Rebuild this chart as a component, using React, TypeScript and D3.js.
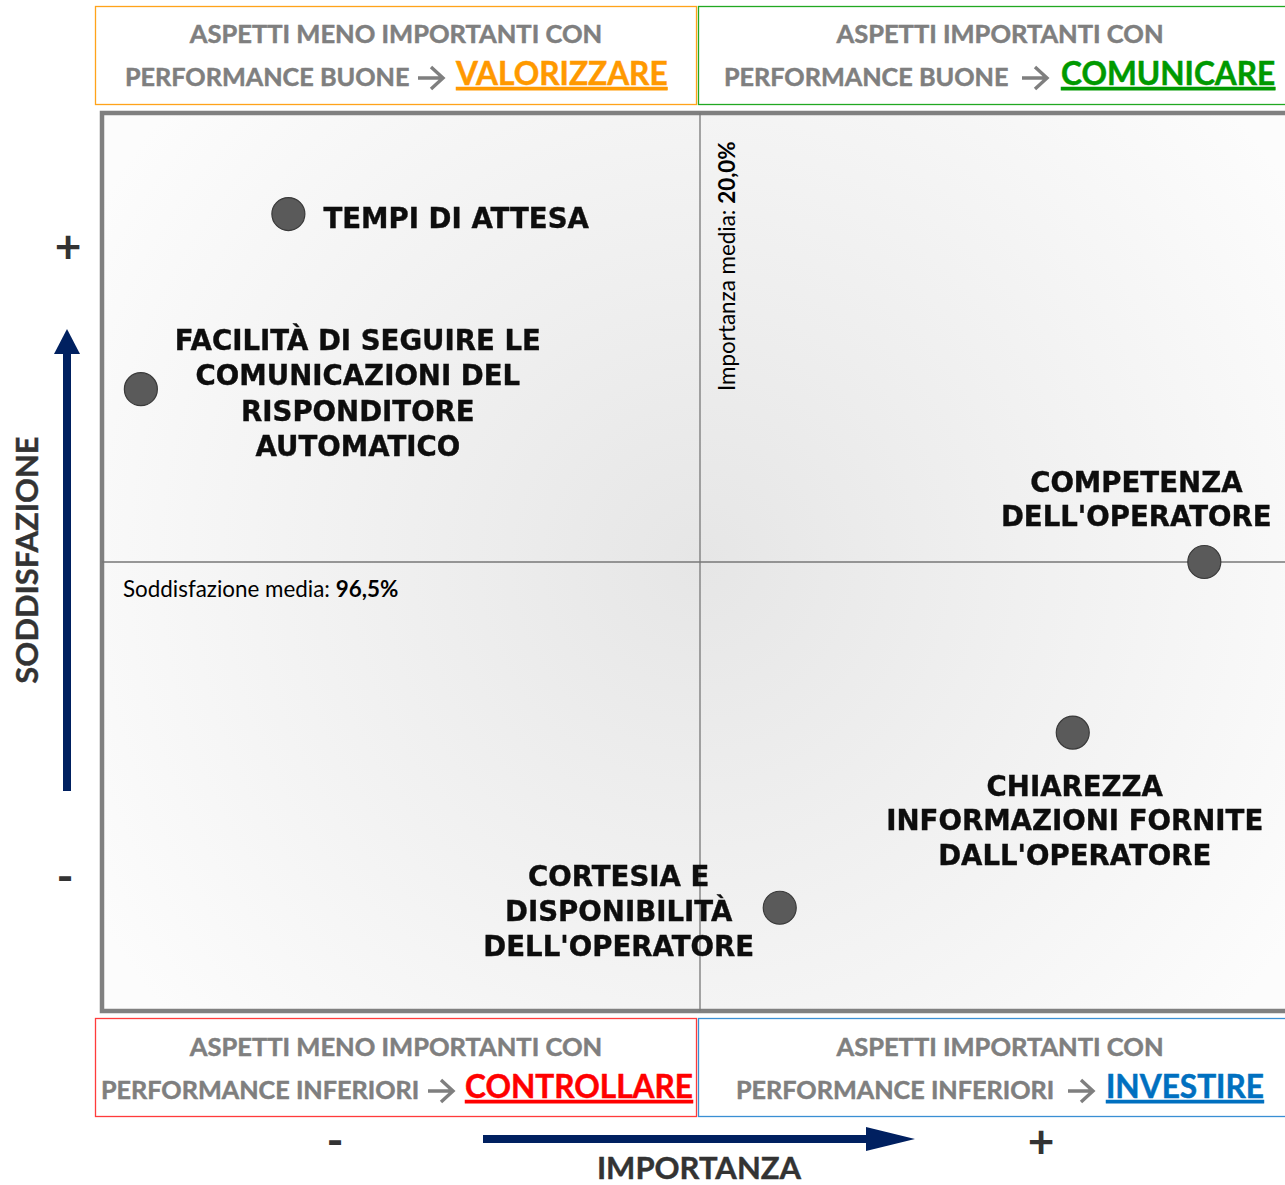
import React from "react";
import * as d3 from "d3";

// ---------- DATA ----------
const aspects = [
  "TEMPI DI ATTESA",
  "FACILITÀ DI SEGUIRE LE COMUNICAZIONI DEL RISPONDITORE AUTOMATICO",
  "COMPETENZA DELL'OPERATORE",
  "CHIAREZZA INFORMAZIONI FORNITE DALL'OPERATORE",
  "CORTESIA E DISPONIBILITÀ DELL'OPERATORE",
];
const labelLines = [
  ["TEMPI DI ATTESA"],
  ["FACILITÀ DI SEGUIRE LE", "COMUNICAZIONI DEL", "RISPONDITORE", "AUTOMATICO"],
  ["COMPETENZA", "DELL'OPERATORE"],
  ["CHIAREZZA", "INFORMAZIONI FORNITE", "DALL'OPERATORE"],
  ["CORTESIA E", "DISPONIBILITÀ", "DELL'OPERATORE"],
];
const importance = [15.87, 14.39, 25.06, 23.74, 20.8]; // %
const satisfaction = [98.05, 97.27, 96.5, 95.74, 94.96]; // %
const meanImportance = 20.0;
const meanSatisfaction = 96.5;

const quadrantTitles = [
  "ASPETTI MENO IMPORTANTI CON",
  "ASPETTI IMPORTANTI CON",
  "ASPETTI MENO IMPORTANTI CON",
  "ASPETTI IMPORTANTI CON",
];
const quadrantSubs = [
  "PERFORMANCE BUONE",
  "PERFORMANCE BUONE",
  "PERFORMANCE INFERIORI",
  "PERFORMANCE INFERIORI",
];
const quadrantActions = ["VALORIZZARE", "COMUNICARE", "CONTROLLARE", "INVESTIRE"];

// ---------- LAYOUT / STYLE ----------
const W = 1285;
const H = 1185;
const plot = { left: 102, top: 113, right: 1298, bottom: 1011 };

const labelLayout = [
  { dx: 35, dy: 14, anchor: "start", lh: 35 },
  { dx: 217, dy: -39, anchor: "middle", lh: 35.3 },
  { dx: -68, dy: -70, anchor: "middle", lh: 33.5 },
  { dx: 2, dy: 63, anchor: "middle", lh: 34.5 },
  { dx: -161, dy: -22, anchor: "middle", lh: 35 },
];

const boxes = [
  { x: 95.5, y: 6.5, w: 601, h: 98, color: "#FFA31A", actionColor: "#FF9900",
    titleX: 396, subX: 125, arrowX: 418, actX: 456, titleY: 43, subY: 86 },
  { x: 698.5, y: 6.5, w: 600, h: 98, color: "#22A822", actionColor: "#009900",
    titleX: 1000, subX: 724, arrowX: 1022, actX: 1061, titleY: 43, subY: 86 },
  { x: 95.5, y: 1018.5, w: 601, h: 98, color: "#FF3B3B", actionColor: "#FF0000",
    titleX: 396, subX: 101, arrowX: 428, actX: 465, titleY: 1056, subY: 1099 },
  { x: 698.5, y: 1018.5, w: 600, h: 98, color: "#3A8FD3", actionColor: "#0070C0",
    titleX: 1000, subX: 736, arrowX: 1068, actX: 1106, titleY: 1056, subY: 1099 },
];

const NAVY = "#002060";
const GRAY_TXT = "#7F7F7F";
const LABEL_FONT = "'DejaVu Sans', Verdana, sans-serif";
const HEAD_FONT = "Lato, 'Open Sans', sans-serif";

export default function App() {
  const x = d3.scaleLinear().domain([14, 26]).range([plot.left, plot.right]);
  const y = d3.scaleLinear().domain([94.5, 98.5]).range([plot.bottom, plot.top]);
  const mx = x(meanImportance);
  const my = y(meanSatisfaction);

  const fmt = (v: number) => d3.format(".1f")(v).replace(".", ",") + "%";

  const arrowPath = (ax: number, ay: number) =>
    `M${ax},${ay - 8} L${ax + 24},${ay - 8} M${ax + 13},${ay - 19} L${ax + 25},${ay - 8} L${ax + 13},${ay + 3}`;

  return (
    <svg
      width={W}
      height={H}
      style={{ position: "absolute", left: 0, top: 0, background: "#fff" }}
    >
      <defs>
        <radialGradient id="bg" cx={mx} cy={my} r={700} gradientUnits="userSpaceOnUse">
          <stop offset="0" stopColor="#e6e6e6" />
          <stop offset="0.55" stopColor="#f2f2f2" />
          <stop offset="1" stopColor="#fcfcfc" />
        </radialGradient>
        <filter id="sh" x="-5%" y="-5%" width="110%" height="110%">
          <feGaussianBlur stdDeviation="0.5" />
        </filter>
      </defs>

      {/* header / footer boxes */}
      {boxes.map((b, i) => (
        <g key={i}>
          <rect x={b.x} y={b.y} width={b.w} height={b.h} fill="#fff" stroke={b.color} strokeWidth={1.3} />
          <text x={b.titleX} y={b.titleY} textAnchor="middle" fontFamily={HEAD_FONT} fontWeight={700}
            fontSize={25.5} fill={GRAY_TXT} stroke={GRAY_TXT} strokeWidth={0.5}>{quadrantTitles[i]}</text>
          <text x={b.subX} y={b.subY} fontFamily={HEAD_FONT} fontWeight={700} fontSize={25.2}
            fill={GRAY_TXT} stroke={GRAY_TXT} strokeWidth={0.5}>{quadrantSubs[i]}</text>
          <path d={arrowPath(b.arrowX, b.subY)} fill="none" stroke={GRAY_TXT} strokeWidth={3.4} />
          <text x={b.actX} y={b.subY - 1} fontFamily={HEAD_FONT} fontWeight={700} fontSize={31.6}
            fill={b.actionColor} stroke={b.actionColor} strokeWidth={0.5}
            style={{ textDecoration: "underline" }}>{quadrantActions[i]}</text>
        </g>
      ))}

      {/* plot area */}
      <rect x={plot.left} y={plot.top} width={plot.right - plot.left} height={plot.bottom - plot.top}
        fill="url(#bg)" stroke="#808080" strokeWidth={4.5} />

      {/* mean lines */}
      <line x1={mx} x2={mx} y1={plot.top} y2={plot.bottom} stroke="#777" strokeWidth={1.3} />
      <line x1={plot.left} x2={plot.right} y1={my} y2={my} stroke="#777" strokeWidth={1.3} />

      <text transform={`translate(${mx + 35},${plot.top + 278}) rotate(-90)`} fontFamily={HEAD_FONT}
        fontSize={22.4} fill="#000">
        Importanza media: <tspan fontWeight={700}>{fmt(meanImportance)}</tspan>
      </text>
      <text x={plot.left + 21} y={my + 35} fontFamily={HEAD_FONT} fontSize={22.4} fill="#000">
        Soddisfazione media: <tspan fontWeight={700}>{fmt(meanSatisfaction)}</tspan>
      </text>

      {/* points + labels */}
      {aspects.map((a, i) => {
        const px = x(importance[i]);
        const py = y(satisfaction[i]);
        const L = labelLayout[i];
        return (
          <g key={a}>
            <circle cx={px} cy={py} r={16.5} fill="#5a5a5a" stroke="#3a3a3a" strokeWidth={1.2} />
            <text textAnchor={L.anchor as any} fontFamily={LABEL_FONT} fontWeight={700} fontSize={27.6}
              fill="#111" stroke="#111" strokeWidth={0.4} filter="url(#sh)">
              {labelLines[i].map((ln, j) => (
                <tspan key={j} x={px + L.dx} y={py + L.dy + j * L.lh}>{ln}</tspan>
              ))}
            </text>
          </g>
        );
      })}

      {/* vertical axis decoration */}
      <text x={68} y={263} textAnchor="middle" fontFamily={HEAD_FONT} fontWeight={700} fontSize={46} fill="#333">+</text>
      <text x={65} y={893} textAnchor="middle" fontFamily={HEAD_FONT} fontWeight={700} fontSize={46} fill="#333">-</text>
      <rect x={63} y={352} width={8} height={439} fill={NAVY} />
      <path d="M54,354 L67,329 L80,354 Z" fill={NAVY} />
      <text transform="translate(38,560) rotate(-90)" textAnchor="middle" fontFamily={HEAD_FONT}
        fontWeight={700} fontSize={31} fill="#333" stroke="#333" strokeWidth={0.4}>SODDISFAZIONE</text>

      {/* horizontal axis decoration */}
      <text x={335} y={1157} textAnchor="middle" fontFamily={HEAD_FONT} fontWeight={700} fontSize={46} fill="#333">-</text>
      <text x={1041} y={1158} textAnchor="middle" fontFamily={HEAD_FONT} fontWeight={700} fontSize={46} fill="#333">+</text>
      <rect x={483} y={1135} width={386} height={8} fill={NAVY} />
      <path d="M866,1127 L915,1139 L866,1151 Z" fill={NAVY} />
      <text x={699} y={1179} textAnchor="middle" fontFamily={HEAD_FONT} fontWeight={700} fontSize={31}
        fill="#333" stroke="#333" strokeWidth={0.4}>IMPORTANZA</text>
    </svg>
  );
}
